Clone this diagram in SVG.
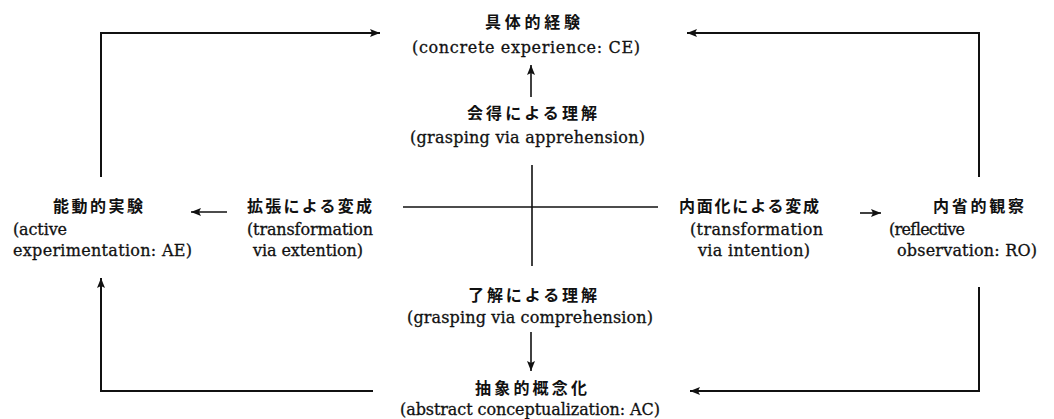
<svg xmlns="http://www.w3.org/2000/svg" width="1054" height="419" viewBox="0 0 1054 419">
<style>
.jp{font-family:"Noto Sans CJK JP","Noto Sans CJK SC",sans-serif;font-size:16px;font-weight:bold;fill:#111}
.en{font-family:"DejaVu Serif","Liberation Serif",serif;font-size:16px;fill:#111;stroke:#111;stroke-width:0.3}
.ln{fill:none;stroke:#111;stroke-width:2}
.thin{fill:none;stroke:#111;stroke-width:1.6}
</style>
<defs>
<marker id="ah" markerUnits="userSpaceOnUse" viewBox="0 0 10 8" refX="10" refY="4" markerWidth="10" markerHeight="8" orient="auto">
<path d="M0,0 L10,4 L0,8 L2,4 z" fill="#111"/>
</marker>
</defs>
<rect width="1054" height="419" fill="#fff"/>
<g id="connectors">
<path class="ln" d="M101,177 V33 H380" marker-end="url(#ah)"/>
<path class="ln" d="M979,177 V33 H687" marker-end="url(#ah)"/>
<path class="ln" d="M373,391 H101 V278" marker-end="url(#ah)"/>
<path class="ln" d="M979,287 V391 H690" marker-end="url(#ah)"/>
<path class="thin" d="M532,165 V266"/>
<path class="thin" d="M403,207 H658"/>
<path class="thin" d="M531,97 V65" marker-end="url(#ah)"/>
<path class="thin" d="M531,332 V371" marker-end="url(#ah)"/>
<path class="thin" d="M227,212 H191" marker-end="url(#ah)"/>
<path class="thin" d="M860,213 H881" marker-end="url(#ah)"/>
</g>
<g id="ce">
<text class="jp" x="485" y="28" textLength="95">具体的経験</text>
<text class="en" x="412" y="53" textLength="228">(concrete experience: CE)</text>
</g>
<g id="apprehension">
<text class="jp" x="467" y="119" textLength="130">会得による理解</text>
<text class="en" x="410" y="143" textLength="235">(grasping via apprehension)</text>
</g>
<g id="ae">
<text class="jp" x="53" y="212" textLength="90">能動的実験</text>
<text class="en" x="13" y="235" textLength="54">(active</text>
<text class="en" x="13" y="256" textLength="179">experimentation: AE)</text>
</g>
<g id="extention">
<text class="jp" x="247" y="212" textLength="125">拡張による変成</text>
<text class="en" x="247" y="235" textLength="126">(transformation</text>
<text class="en" x="253" y="256" textLength="110">via extention)</text>
</g>
<g id="intention">
<text class="jp" x="679" y="212" textLength="140">内面化による変成</text>
<text class="en" x="690" y="235" textLength="133">(transformation</text>
<text class="en" x="698" y="256" textLength="112">via intention)</text>
</g>
<g id="ro">
<text class="jp" x="933" y="212" textLength="91">内省的観察</text>
<text class="en" x="889" y="235" textLength="76">(reflective</text>
<text class="en" x="897" y="256" textLength="140">observation: RO)</text>
</g>
<g id="comprehension">
<text class="jp" x="468" y="301" textLength="129">了解による理解</text>
<text class="en" x="407" y="323" textLength="246">(grasping via comprehension)</text>
</g>
<g id="ac">
<text class="jp" x="475" y="394" textLength="112">抽象的概念化</text>
<text class="en" x="400" y="415" textLength="260">(abstract conceptualization: AC)</text>
</g>
</svg>
